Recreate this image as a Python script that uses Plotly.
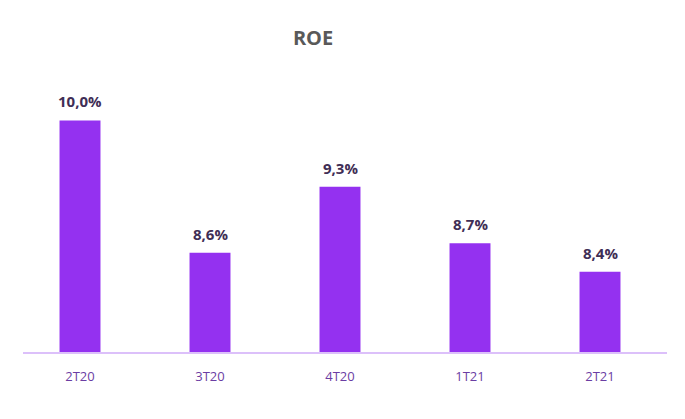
import plotly.graph_objects as go

categories = ["2T20", "3T20", "4T20", "1T21", "2T21"]
roe_values = [10.0, 8.6, 9.3, 8.7, 8.4]
value_labels = ["10,0%", "8,6%", "9,3%", "8,7%", "8,4%"]

fig = go.Figure()
fig.add_trace(go.Bar(
    x=categories,
    y=roe_values,
    marker=dict(color="#9431F0", line=dict(width=0)),
    hoverinfo="skip",
))

for cat, val, lab in zip(categories, roe_values, value_labels):
    fig.add_annotation(
        x=cat, y=val, text="<b>" + lab + "</b>",
        showarrow=False, yanchor="bottom", yshift=7,
        font=dict(family="Open Sans", size=15, color="#3F2E55"),
    )

fig.update_layout(
    width=685,
    height=419,
    margin=dict(l=15, r=20, t=60, b=66),
    paper_bgcolor="white",
    plot_bgcolor="white",
    bargap=0.685,
    showlegend=False,
    title=dict(
        text="<b>ROE</b>",
        x=0.457, xanchor="center",
        y=1 - 38 / 419, yanchor="middle",
        yref="container",
        font=dict(family="Open Sans", size=20, color="#595959"),
    ),
    xaxis=dict(
        showline=False,
        showgrid=False,
        zeroline=False,
        ticks="",
        tickfont=dict(family="Open Sans", size=13, color="#6B3DA3"),
        ticklabelstandoff=14,
    ),
    yaxis=dict(
        range=[7.54, 10.64],
        visible=False,
        showgrid=False,
        zeroline=False,
    ),
    shapes=[dict(
        type="line", xref="paper", yref="paper",
        x0=(23 - 15) / 650, x1=(667 - 15) / 650, y0=0, y1=0,
        line=dict(color="#DCC0FA", width=2),
    )],
)

fig.write_html("out.html")
